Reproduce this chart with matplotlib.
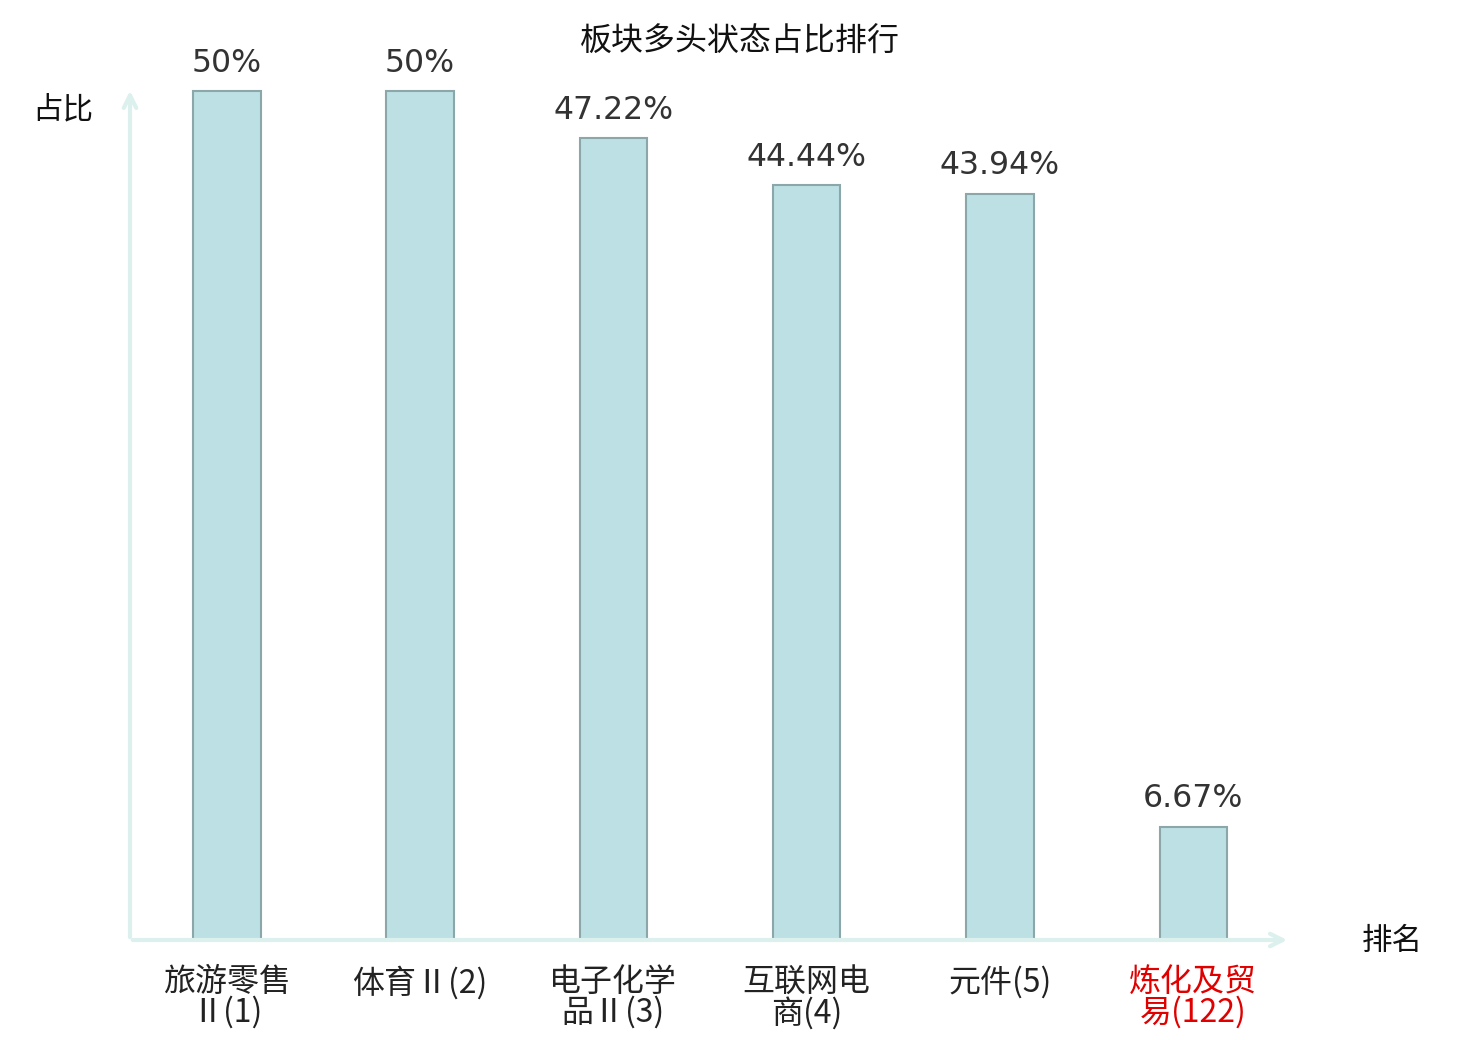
import matplotlib
matplotlib.use('Agg')
import matplotlib.pyplot as plt

plt.rcParams['font.family'] = ['Noto Sans CJK SC', 'DejaVu Sans']

categories = ['旅游零售\nⅡ(1)', '体育Ⅱ(2)', '电子化学\n品Ⅱ(3)', '互联网电\n商(4)', '元件(5)', '炼化及贸\n易(122)']
values = [50, 50, 47.22, 44.44, 43.94, 6.67]
value_labels = ['50%', '50%', '47.22%', '44.44%', '43.94%', '6.67%']
label_colors = ['#222222'] * 5 + ['#e00000']

AXIS_COLOR = '#dcf0ee'

fig = plt.figure(figsize=(14.8, 10.4), dpi=100)
ax = fig.add_axes([130 / 1480, 100 / 1040, 1160 / 1480, 852 / 1040])

x = list(range(len(values)))
ax.bar(x, values, width=0.35, color='#bce0e3', edgecolor='#8ba7a9', linewidth=1.5, zorder=3)

for xi, v, lab in zip(x, values, value_labels):
    ax.annotate(lab, (xi, v), xytext=(0, 9), textcoords='offset points',
                ha='center', va='bottom', fontsize=22.7, color='#333333',
                family='DejaVu Sans')

ax.set_xlim(-0.5, 5.5)
ax.set_ylim(0, 50.18)
for s in ax.spines.values():
    s.set_visible(False)
ax.set_yticks([])
ax.set_xticks(x)
ax.set_xticklabels(categories, fontsize=23, linespacing=0.92)
for t, c in zip(ax.get_xticklabels(), label_colors):
    t.set_color(c)
ax.tick_params(axis='x', length=0, pad=19)

# axis arrows
arrow = dict(arrowstyle='->,head_length=0.9,head_width=0.45', color=AXIS_COLOR, lw=3)
ax.annotate('', xy=(0, 1.0), xytext=(0, 0), xycoords='axes fraction', arrowprops=arrow)
ax.annotate('', xy=(1.0, 0), xytext=(0, 0), xycoords='axes fraction', arrowprops=arrow)

fig.text(63 / 1480, 1 - 110 / 1040, '占比', fontsize=22, ha='center', va='center', color='#111111')
fig.text(1392 / 1480, 1 - 941 / 1040, '排名', fontsize=22, ha='center', va='center', color='#111111')
fig.text(740 / 1480, 1 - 42 / 1040, '板块多头状态占比排行', fontsize=23, ha='center', va='center', color='#111111')

fig.savefig('out.png', dpi=100)
